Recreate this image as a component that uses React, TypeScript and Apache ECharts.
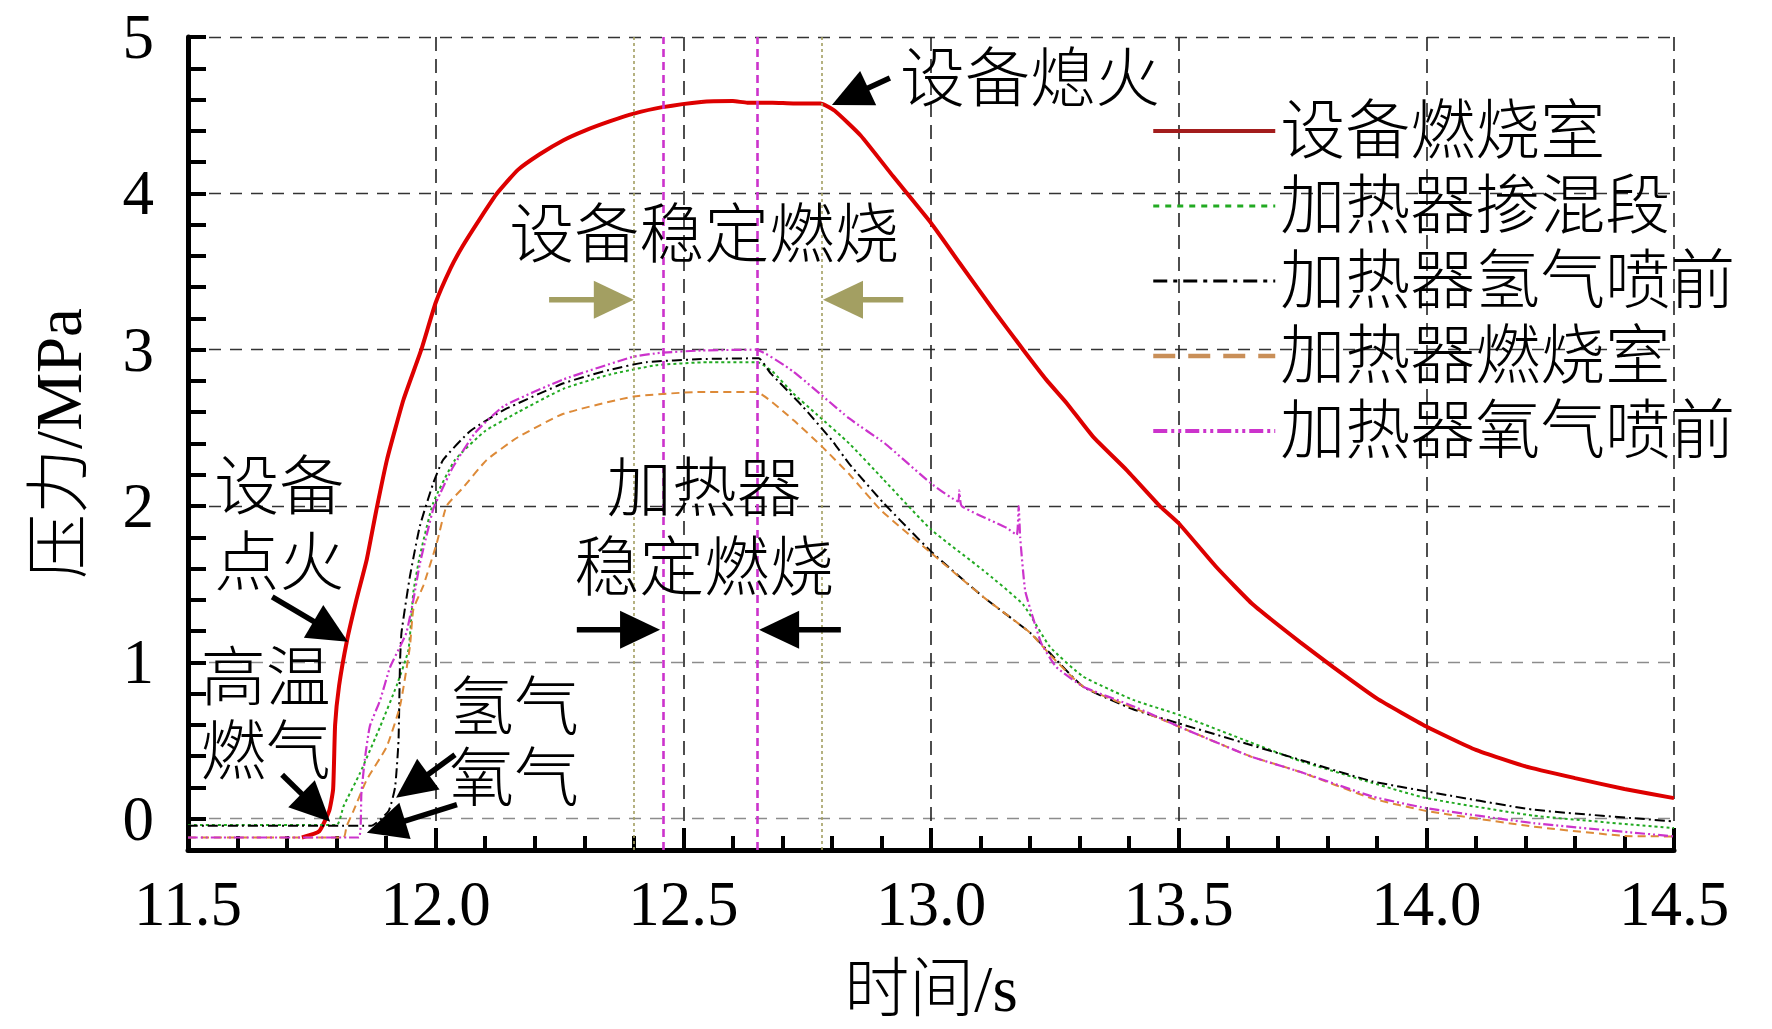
import React, { useEffect, useRef } from 'react';
import * as echarts from 'echarts';

type Pt = [number, number];

const FONT = "'Liberation Serif', 'Times New Roman', 'Noto Sans CJK SC', serif";
const CJK_WEIGHT = 300;

const SERIES_NAMES = ['设备燃烧室', '加热器掺混段', '加热器氢气喷前', '加热器燃烧室', '加热器氧气喷前'];

// 设备燃烧室
const CHAMBER: Pt[] = [
  [11.73, -0.12], [11.765, -0.08], [11.785, 0.05], [11.793, 0.19], [11.797, 0.6],
  [11.805, 0.85], [11.821, 1.14], [11.84, 1.4], [11.861, 1.66], [11.88, 1.97], [11.902, 2.3],
  [11.935, 2.68], [11.971, 3.0], [12.0, 3.3], [12.03, 3.52], [12.054, 3.66], [12.09, 3.84],
  [12.124, 4.0], [12.166, 4.15], [12.21, 4.25], [12.258, 4.34], [12.3, 4.4], [12.351, 4.46],
  [12.4, 4.51], [12.455, 4.55], [12.536, 4.585], [12.6, 4.59], [12.629, 4.58], [12.68, 4.58],
  [12.722, 4.575], [12.777, 4.575], [12.805, 4.53], [12.858, 4.37], [12.924, 4.107],
  [13.0, 3.81], [13.058, 3.553], [13.126, 3.254], [13.186, 3.0], [13.233, 2.807], [13.274, 2.658],
  [13.327, 2.444], [13.395, 2.23], [13.462, 2.0], [13.5, 1.89], [13.576, 1.61], [13.65, 1.37],
  [13.745, 1.13], [13.812, 0.97], [13.9, 0.77], [14.0, 0.59], [14.1, 0.44], [14.2, 0.335],
  [14.3, 0.26], [14.4, 0.19], [14.5, 0.132],
];

// 加热器掺混段
const MIXER: Pt[] = [
  [11.5, -0.04], [11.8, -0.04], [11.814, 0.08], [11.847, 0.29], [11.888, 0.59], [11.921, 0.85],
  [11.945, 1.08], [11.955, 1.45], [11.968, 1.68], [11.995, 2.02], [12.039, 2.295], [12.1, 2.48],
  [12.166, 2.6], [12.258, 2.75], [12.35, 2.84], [12.444, 2.9], [12.55, 2.92], [12.65, 2.92],
  [12.68, 2.86], [12.722, 2.72], [12.768, 2.59], [12.835, 2.4], [12.904, 2.17], [13.0, 1.85],
  [13.105, 1.59], [13.186, 1.37], [13.24, 1.1], [13.307, 0.91], [13.408, 0.76], [13.5, 0.665],
  [13.644, 0.49], [13.745, 0.37], [13.89, 0.23], [14.0, 0.132], [14.216, 0.02], [14.5, -0.06],
];

// 加热器氢气喷前
const H2_INLET: Pt[] = [
  [11.5, -0.045], [11.87, -0.045], [11.905, 0.05], [11.918, 0.2], [11.925, 0.5], [11.928, 1.0],
  [11.931, 1.19], [11.948, 1.55], [11.968, 1.87], [11.995, 2.145], [12.015, 2.295], [12.07, 2.48],
  [12.138, 2.615], [12.258, 2.785], [12.35, 2.87], [12.425, 2.92], [12.536, 2.94], [12.652, 2.945],
  [12.676, 2.85], [12.74, 2.64], [12.8, 2.42], [12.835, 2.27], [12.904, 2.02], [13.0, 1.71],
  [13.105, 1.42], [13.2, 1.19], [13.24, 1.06], [13.307, 0.845], [13.408, 0.7], [13.5, 0.61],
  [13.644, 0.473], [13.745, 0.377], [13.89, 0.24], [14.0, 0.175], [14.216, 0.058], [14.5, -0.017],
];

// 加热器燃烧室
const HEATER: Pt[] = [
  [11.5, -0.12], [11.814, -0.12], [11.82, -0.05], [11.834, 0.05], [11.861, 0.25], [11.901, 0.46],
  [11.928, 0.72], [11.948, 1.1], [11.955, 1.34], [11.975, 1.49], [12.002, 1.76], [12.022, 2.0],
  [12.056, 2.12], [12.103, 2.295], [12.166, 2.44], [12.258, 2.59], [12.399, 2.7], [12.536, 2.73],
  [12.646, 2.73], [12.722, 2.55], [12.78, 2.38], [12.836, 2.2], [12.9, 1.97], [13.0, 1.7],
  [13.105, 1.42], [13.2, 1.19], [13.24, 1.05], [13.307, 0.845], [13.408, 0.71], [13.5, 0.59],
  [13.644, 0.4], [13.745, 0.3], [13.89, 0.13], [14.0, 0.05], [14.216, -0.05], [14.4, -0.11],
  [14.5, -0.113],
];

// 加热器氧气喷前
const O2_INLET: Pt[] = [
  [11.5, -0.12], [11.845, -0.12], [11.85, 0.16], [11.857, 0.38], [11.867, 0.59], [11.888, 0.76],
  [11.908, 0.97], [11.928, 1.1], [11.941, 1.19], [11.955, 1.4], [11.968, 1.63], [11.995, 1.98],
  [12.009, 2.08], [12.035, 2.25], [12.08, 2.47], [12.138, 2.64], [12.258, 2.81], [12.399, 2.955],
  [12.455, 2.98], [12.536, 2.995], [12.646, 3.0], [12.722, 2.86], [12.835, 2.56], [12.907, 2.4],
  [13.0, 2.145], [13.055, 2.03], [13.057, 2.1], [13.062, 2.0], [13.153, 1.86], [13.173, 1.815],
  [13.177, 2.0], [13.18, 1.8], [13.19, 1.46], [13.203, 1.315], [13.223, 1.12], [13.253, 0.97],
  [13.307, 0.845], [13.408, 0.72], [13.5, 0.59], [13.644, 0.4], [13.745, 0.3], [13.89, 0.143],
  [14.0, 0.068], [14.216, -0.028], [14.5, -0.113],
];

const SERIES_DATA = [CHAMBER, MIXER, H2_INLET, HEATER, O2_INLET];
const SERIES_COLORS = ['#dd0000', '#22aa22', '#000000', '#dd8a38', '#cc33cc'];
const SERIES_DASH: (number[] | 'solid')[] = ['solid', [3, 3], [10, 4, 2, 4], [8, 5], [10, 3, 2, 3, 2, 3]];
const SERIES_WIDTH = [4, 2, 2, 2, 2.2];
const LEGEND_COLORS = ['#a31d1d', '#22aa22', '#000000', '#c98f58', '#cc33cc'];
const LEGEND_DASH: (number[] | 'solid')[] = ['solid', [6, 6], [14, 6, 4, 6], [22, 13], [14, 4, 3, 4, 3, 4]];
const LEGEND_WIDTH = [4, 3, 3, 4.5, 4];

// steady-state markers
const DEVICE_STEADY = [12.4, 12.778];
const HEATER_STEADY = [12.455, 12.646];

const Y_INTEGER_TICKS = [0, 1, 2, 3, 4, 5];

// annotation texts (data coordinates)
const NOTES: { text: string; at: Pt }[] = [
  { text: '设备熄火', at: [13.2, 4.731] },
  { text: '设备稳定燃烧', at: [12.542, 3.734] },
  { text: '加热器', at: [12.542, 2.11] },
  { text: '稳定燃烧', at: [12.542, 1.605] },
  { text: '设备', at: [11.684, 2.123] },
  { text: '点火', at: [11.684, 1.637] },
  { text: '高温', at: [11.657, 0.902] },
  { text: '燃气', at: [11.657, 0.428] },
  { text: '氢气', at: [12.158, 0.71] },
  { text: '氧气', at: [12.158, 0.256] },
];

const OLIVE = '#a39f62';

const ARROWS: { tail: Pt; tip: Pt; color: string }[] = [
  { tail: [12.917, 4.738], tip: [12.8, 4.565], color: '#000' },
  { tail: [11.67, 1.419], tip: [11.823, 1.132], color: '#000' },
  { tail: [11.69, 0.281], tip: [11.787, -0.019], color: '#000' },
  { tail: [12.039, 0.409], tip: [11.92, 0.134], color: '#000' },
  { tail: [12.043, 0.0895], tip: [11.861, -0.0895], color: '#000' },
  { tail: [12.229, 3.32], tip: [12.4, 3.32], color: OLIVE },
  { tail: [12.944, 3.32], tip: [12.782, 3.32], color: OLIVE },
  { tail: [12.285, 1.208], tip: [12.453, 1.208], color: '#000' },
  { tail: [12.818, 1.208], tip: [12.653, 1.208], color: '#000' },
];

// y ticks run from -0.2 in steps of 0.2; only integer ticks get a grid line
const ySplitColors = Array.from({ length: 27 }, (_, i) => {
  const v = Math.round((-0.2 + i * 0.2) * 10) / 10;
  if (!Y_INTEGER_TICKS.includes(v)) return 'rgba(0,0,0,0)';
  return v <= 1 ? '#8c8c8c' : '#333333';
});

export default function App() {
  const chartRef = useRef<HTMLDivElement>(null);

  useEffect(() => {
    document.body.style.margin = '0';
    if (!chartRef.current) return;
    const chart = echarts.init(chartRef.current, undefined, { renderer: 'svg' });

    const option: echarts.EChartsOption = {
      animation: false,
      backgroundColor: '#ffffff',
      textStyle: { fontFamily: FONT },
      grid: { left: 188, top: 37, width: 1486, height: 813, containLabel: false },
      legend: {
        orient: 'vertical',
        left: 1146,
        top: 93,
        itemWidth: 122,
        itemHeight: 14,
        itemGap: 9,
        selectedMode: false,
        itemStyle: { opacity: 0, borderWidth: 0 },
        textStyle: { fontSize: 65, lineHeight: 66, color: '#000', fontFamily: FONT, fontWeight: CJK_WEIGHT },
        data: SERIES_NAMES.map((name, i) => ({
          name,
          itemStyle: { opacity: 0, borderWidth: 0, color: 'rgba(0,0,0,0)' },
          lineStyle: { color: LEGEND_COLORS[i], width: LEGEND_WIDTH[i], type: LEGEND_DASH[i] },
        })) as any,
      },
      xAxis: {
        type: 'value',
        min: 11.5,
        max: 14.5,
        interval: 0.5,
        name: '时间/s',
        nameLocation: 'middle',
        nameGap: 106,
        nameTextStyle: { fontSize: 65, color: '#000', fontFamily: FONT, fontWeight: CJK_WEIGHT },
        axisLine: { show: true, onZero: false, lineStyle: { color: '#000', width: 5 } },
        axisTick: { show: true, inside: true, length: 22, lineStyle: { color: '#000', width: 4 } },
        minorTick: { show: true, splitNumber: 5, length: 14, lineStyle: { color: '#000', width: 4 } },
        axisLabel: {
          fontSize: 63,
          color: '#000',
          margin: 22,
          fontFamily: FONT,
          formatter: (v: number) => v.toFixed(1),
        },
        splitLine: { show: true, lineStyle: { color: '#222', width: 1.6, type: [14, 8] } },
      },
      yAxis: {
        type: 'value',
        min: -0.2,
        max: 5,
        interval: 0.2,
        name: '压力/MPa',
        nameLocation: 'middle',
        nameGap: 97,
        nameTextStyle: { fontSize: 65, color: '#000', fontFamily: FONT, fontWeight: CJK_WEIGHT },
        axisLine: { show: true, onZero: false, lineStyle: { color: '#000', width: 5 } },
        axisTick: { show: true, inside: true, length: 18, lineStyle: { color: '#000', width: 4 } },
        axisLabel: {
          fontSize: 63,
          color: '#000',
          margin: 34,
          fontFamily: FONT,
          formatter: (v: number) => {
            const r = Math.round(v);
            return Math.abs(v - r) < 1e-6 ? String(r) : '';
          },
        },
        splitLine: {
          show: true,
          showMinLine: true,
          showMaxLine: true,
          lineStyle: { color: ySplitColors, width: 1.4, type: [12, 9] },
        } as any,
      },
      series: SERIES_NAMES.map((name, i) => ({
        name,
        type: 'line',
        data: SERIES_DATA[i],
        symbol: 'none',
        smooth: 0.15,
        z: 3 + i,
        lineStyle: { color: SERIES_COLORS[i], width: SERIES_WIDTH[i], type: SERIES_DASH[i] as any },
        itemStyle: { color: SERIES_COLORS[i] },
        markLine:
          i === 0
            ? {
                silent: true,
                symbol: 'none',
                label: { show: false },
                data: [
                  ...DEVICE_STEADY.map((x) => ({
                    xAxis: x,
                    lineStyle: { color: OLIVE, width: 1.6, type: [3, 3] as any },
                  })),
                  ...HEATER_STEADY.map((x) => ({
                    xAxis: x,
                    lineStyle: { color: '#cc33cc', width: 2.6, type: [8, 5] as any },
                  })),
                ],
              }
            : undefined,
      })) as any,
    };

    chart.setOption(option);

    const toPx = (p: Pt) => chart.convertToPixel({ gridIndex: 0 }, p) as number[];

    const graphics: any[] = [];
    NOTES.forEach((n) => {
      const [x, y] = toPx(n.at);
      graphics.push({
        type: 'text',
        x,
        y,
        z: 20,
        style: {
          text: n.text,
          fontSize: 65,
          fontFamily: FONT,
          fontWeight: CJK_WEIGHT,
          fill: '#000',
          align: 'center',
          verticalAlign: 'middle',
          textAlign: 'center',
          textVerticalAlign: 'middle',
        },
      });
    });

    const headLen = 40;
    const headHalf = 19;
    ARROWS.forEach((a) => {
      const [sx, sy] = toPx(a.tail);
      const [tx, ty] = toPx(a.tip);
      const len = Math.hypot(tx - sx, ty - sy);
      const ux = (tx - sx) / len;
      const uy = (ty - sy) / len;
      const bx = tx - ux * headLen;
      const by = ty - uy * headLen;
      graphics.push({
        type: 'line',
        z: 20,
        shape: { x1: sx, y1: sy, x2: bx + ux * 3, y2: by + uy * 3 },
        style: { stroke: a.color, lineWidth: 5.5 },
      });
      graphics.push({
        type: 'polygon',
        z: 20,
        shape: {
          points: [
            [tx, ty],
            [bx - uy * headHalf, by + ux * headHalf],
            [bx + uy * headHalf, by - ux * headHalf],
          ],
        },
        style: { fill: a.color },
      });
    });

    chart.setOption({ graphic: graphics });

    return () => {
      chart.dispose();
    };
  }, []);

  return <div ref={chartRef} style={{ width: 1772, height: 1029 }} />;
}
